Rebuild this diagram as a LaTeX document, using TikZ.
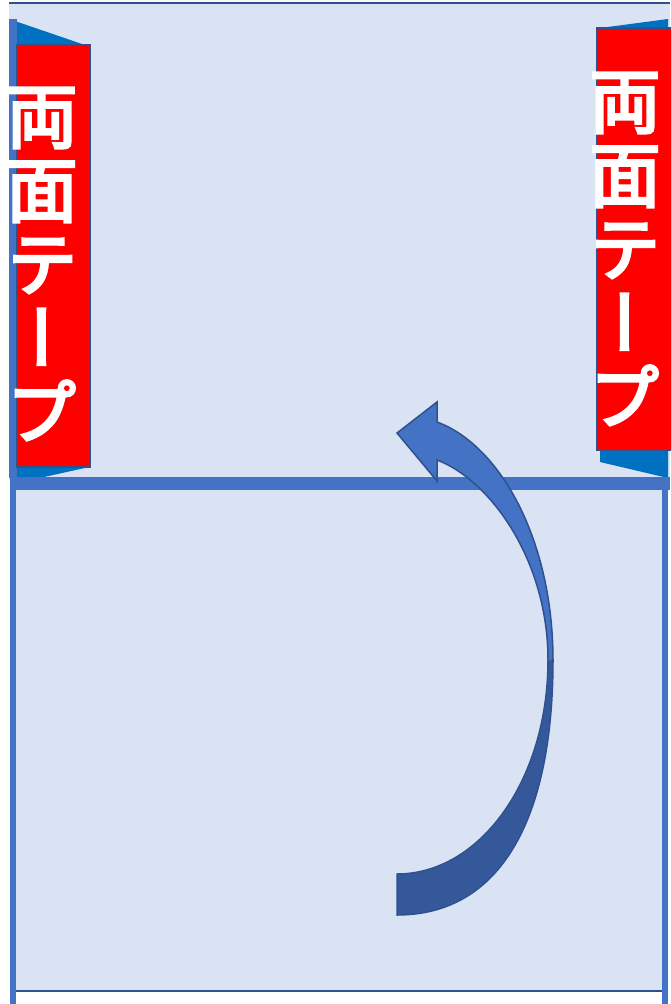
\documentclass[tikz,border=0pt]{standalone}
\usepackage{fontspec}
\newfontfamily\jpfont[RawFeature=+vert,FakeBold=4]{Noto Sans CJK JP}
\definecolor{panelfill}{HTML}{DAE3F3}
\definecolor{lineblue}{HTML}{4472C4}
\definecolor{edgeblue}{HTML}{2F528F}
\definecolor{tapeblue}{HTML}{0070C0}
\definecolor{arrowdark}{HTML}{34589A}
\begin{document}
\begin{tikzpicture}[x=1pt,y=-1pt,
  tapebox/.style={fill=red,draw=edgeblue,line width=2pt},
  tapetext/.style={text=white,inner sep=0pt,align=center,
    font=\jpfont\fontsize{71}{74}\selectfont}]
\useasboundingbox (0,0) rectangle (670,1004);
% upper panel
\fill [panelfill] (9,3) rectangle (670,480);
\draw [edgeblue,line width=2pt] (9,3) -- (670,3);
% lower panel
\fill [panelfill] (14,483) rectangle (664,991);
\draw [edgeblue,line width=2pt] (14,991) -- (664,991);
\draw [lineblue,line width=6pt] (13,478) -- (13,1004);
\draw [lineblue,line width=6pt] (665,478) -- (665,1004);
% left tape
\fill [tapeblue] (9,19) -- (85,45) -- (85,468) -- (12,484) -- cycle;
\fill [lineblue] (9,19) rectangle (17,478);
\draw [tapebox] (17,45) rectangle (90,467);
\node [tapetext] (tapeL) at (42,264) {両\\面\\テ\\ー\\プ};
% right tape
\fill [tapeblue] (600,28) -- (668,19) -- (668,478) -- (600,462) -- cycle;
\draw [tapebox] (597,28) rectangle (672,450);
\node [tapetext] (tapeR) at (625,249) {両\\面\\テ\\ー\\プ};
% fold line
\draw [lineblue,line width=13pt] (10,483.5) -- (670,483.5);
% curved arrow
\fill [lineblue] (397,915) .. controls (500,915) and (553,820) .. (553,660)
  .. controls (553,540) and (500,445) .. (437,422) -- (437,402) -- (397,433)
  -- (437,481) -- (437,460) .. controls (490,480) and (548,560) .. (548,660)
  .. controls (548,780) and (480,874) .. (397,874) -- cycle;
\fill [arrowdark] (397,915) .. controls (500,915) and (553,820) .. (553,660)
  -- (548,660) .. controls (548,780) and (480,874) .. (397,874) -- cycle;
\draw [edgeblue,line width=1.5pt,line join=miter] (397,915) .. controls (500,915) and (553,820) .. (553,660)
  .. controls (553,540) and (500,445) .. (437,422) -- (437,402) -- (397,433)
  -- (437,481) -- (437,460) .. controls (490,480) and (548,560) .. (548,660)
  .. controls (548,780) and (480,874) .. (397,874) -- cycle;
\end{tikzpicture}
\end{document}
